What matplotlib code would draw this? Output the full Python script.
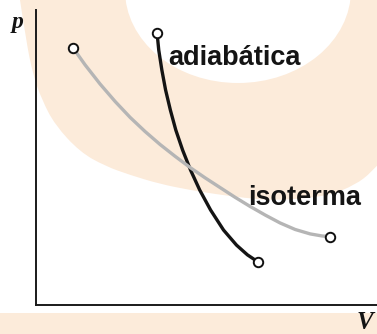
import matplotlib
matplotlib.use("Agg")
import matplotlib.pyplot as plt
from matplotlib.path import Path
from matplotlib.patches import PathPatch, Ellipse, Rectangle

# ---- data (arbitrary units) ----
iso_V = [1.09, 1.44, 1.88, 2.32, 2.76, 3.20, 3.64, 4.08, 4.52, 4.96,
         5.40, 5.84, 6.28, 6.72, 7.16, 7.60, 8.04, 8.39, 8.62]
iso_p = [8.71, 8.14, 7.49, 6.90, 6.36, 5.88, 5.44, 5.04, 4.66, 4.31,
         3.98, 3.65, 3.34, 3.05, 2.78, 2.56, 2.41, 2.34, 2.32]

adi_V = [3.55, 3.60, 3.69, 3.80, 3.94, 4.10, 4.30, 4.53, 4.80, 5.12,
         5.50, 5.88, 6.20, 6.51]
adi_p = [9.22, 8.64, 7.97, 7.29, 6.61, 5.93, 5.25, 4.58, 3.90, 3.22,
         2.54, 2.03, 1.70, 1.46]

label_adi = "adiabática"
label_iso = "isoterma"
axis_x = "V"
axis_y = "p"

# ---- figure ----
W, H = 377, 334
fig = plt.figure(figsize=(W / 100, H / 100), dpi=100)
fig.patch.set_facecolor("white")

# background watermark (pixel coordinates)
peach = "#fcebda"
bg = fig.add_axes([0, 0, 1, 1], zorder=0)
bg.set_xlim(0, W)
bg.set_ylim(H, 0)
bg.axis("off")

boundary = [(20, 0), (26, 40), (33, 75), (42, 100), (55, 125), (80, 152),
            (105, 166), (130, 175), (160, 184), (190, 190), (215, 194),
            (245, 198), (270, 200), (300, 199), (330, 195), (355, 185),
            (372, 172), (382, 160)]
verts = [boundary[0]]
codes = [Path.MOVETO]
n = len(boundary)
for i in range(1, n - 1):
    c = boundary[i]
    if i < n - 2:
        e = ((boundary[i][0] + boundary[i + 1][0]) / 2,
             (boundary[i][1] + boundary[i + 1][1]) / 2)
    else:
        e = boundary[i + 1]
    verts += [c, e]
    codes += [Path.CURVE3, Path.CURVE3]
verts += [(385, -5), (15, -5), (15, -5)]
codes += [Path.LINETO, Path.LINETO, Path.CLOSEPOLY]
bg.add_patch(PathPatch(Path(verts, codes), facecolor=peach, edgecolor="none"))
bg.add_patch(Ellipse((238, -10), 226, 186, facecolor="white", edgecolor="none"))
bg.add_patch(Rectangle((0, 313), W, 30, facecolor=peach, edgecolor="none"))

# main axes
ax = fig.add_axes([36 / W, (H - 305) / H, (W - 36) / W, (305 - 10) / H], zorder=1)
ax.patch.set_alpha(0)
ax.set_xlim(0, 10)
ax.set_ylim(0, 10)
for s in ("top", "right"):
    ax.spines[s].set_visible(False)
for s in ("left", "bottom"):
    ax.spines[s].set_linewidth(1.4)
    ax.spines[s].set_color("#1a1a1a")
ax.set_xticks([])
ax.set_yticks([])

ax.plot(adi_V, adi_p, color="#141414", lw=2.4, zorder=3,
        solid_capstyle="round", solid_joinstyle="round")
ax.plot(iso_V, iso_p, color="#b5b5b5", lw=2.4, zorder=4,
        solid_capstyle="round", solid_joinstyle="round")
ax.plot([adi_V[0], adi_V[-1]], [adi_p[0], adi_p[-1]], "o", mfc="white",
        mec="#111111", ms=6.8, mew=1.4, zorder=6, clip_on=False)
ax.plot([iso_V[0], iso_V[-1]], [iso_p[0], iso_p[-1]], "o", mfc="white",
        mec="#111111", ms=6.8, mew=1.4, zorder=6, clip_on=False)

ax.text(3.87, 8.14, label_adi, fontsize=19.5, fontweight="bold",
        family="Liberation Sans", color="#141414", ha="left", va="baseline",
        zorder=7)
ax.text(6.22, 3.39, label_iso, fontsize=19.5, fontweight="bold",
        family="Liberation Sans", color="#141414", ha="left", va="baseline",
        zorder=7)

fig.text(12 / W, (H - 28) / H, axis_y, fontsize=17, fontweight="bold",
         fontstyle="italic", family="Liberation Serif", color="#141414",
         ha="left", va="baseline")
fig.text(357 / W, (H - 329) / H, axis_x, fontsize=18, fontweight="bold",
         fontstyle="italic", family="Liberation Serif", color="#141414",
         ha="left", va="baseline")

fig.savefig("out.png", dpi=100, facecolor="white")
